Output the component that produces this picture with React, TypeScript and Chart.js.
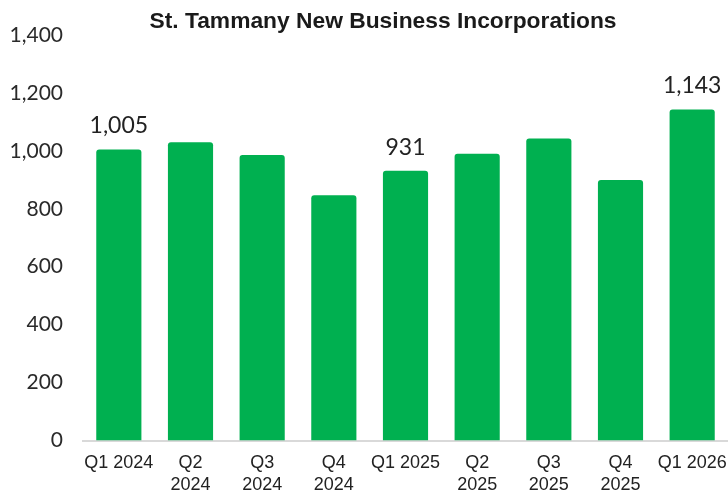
import React, { useEffect, useRef } from "react";
import { Chart, registerables } from "chart.js";

Chart.register(...registerables);

const TITLE = "St. Tammany New Business Incorporations";
const categories: string[][] = [
  ["Q1 2024"],
  ["Q2", "2024"],
  ["Q3", "2024"],
  ["Q4", "2024"],
  ["Q1 2025"],
  ["Q2", "2025"],
  ["Q3", "2025"],
  ["Q4", "2025"],
  ["Q1 2026"],
];
const incorporations: number[] = [1005, 1030, 986, 847, 931, 990, 1043, 899, 1143];
const labeledIndices: number[] = [0, 4, 8];
const yMin = 0;
const yMax = 1400;
const yStep = 200;

const GREEN = "#00B050";

const overlayPlugin = {
  id: "overlay",
  afterDatasetsDraw(chart: any) {
    const ctx = chart.ctx;
    const meta = chart.getDatasetMeta(0);
    ctx.save();
    ctx.fillStyle = "#222222";
    ctx.font = "23px Lato";
    ctx.textAlign = "center";
    ctx.textBaseline = "alphabetic";
    labeledIndices.forEach((i) => {
      const el = meta.data[i];
      if (!el) return;
      ctx.fillText(incorporations[i].toLocaleString("en-US"), el.x, el.y - 16);
    });
    ctx.fillStyle = "#1a1a1a";
    ctx.font = "bold 22.8px 'Liberation Sans', Arial, sans-serif";
    ctx.fillText(TITLE, 383, 28.3);
    ctx.restore();
  },
};

export default function App() {
  const canvasRef = useRef<HTMLCanvasElement | null>(null);

  useEffect(() => {
    document.body.style.margin = "0";
    const canvas = canvasRef.current;
    if (!canvas) return;
    const chart = new Chart(canvas, {
      type: "bar",
      data: {
        labels: categories,
        datasets: [
          {
            data: incorporations,
            backgroundColor: GREEN,
            borderWidth: 0,
            borderRadius: { topLeft: 3, topRight: 3, bottomLeft: 0, bottomRight: 0 },
            borderSkipped: "bottom",
            categoryPercentage: 1,
            barPercentage: 0.63,
          },
        ],
      },
      options: {
        responsive: false,
        animation: false,
        devicePixelRatio: 1,
        layout: { padding: { top: 35, left: 0, right: 0, bottom: 0 } },
        plugins: {
          legend: { display: false },
          title: { display: false },
          tooltip: { enabled: false },
        },
        scales: {
          x: {
            grid: { display: false, drawTicks: false },
            border: { display: true, color: "#d9d9d9", width: 2 },
            ticks: {
              color: "#222222",
              font: { family: "'Liberation Sans', Arial, sans-serif", size: 18, lineHeight: 1.222 },
              padding: 12,
              maxRotation: 0,
              autoSkip: false,
            },
            afterFit(scale: any) {
              scale.height = 54.5;
              scale.paddingLeft = 0;
              scale.paddingRight = 0;
            },
          },
          y: {
            min: yMin,
            max: yMax,
            grid: { display: false, drawTicks: false },
            border: { display: false },
            ticks: {
              stepSize: yStep,
              color: "#2a2a2a",
              font: { family: "Lato", size: 21 },
              padding: 20,
              callback: (v: any) => Number(v).toLocaleString("en-US"),
            },
            afterFit(scale: any) {
              scale.width = 83;
            },
          },
        },
      },
      plugins: [overlayPlugin],
    });
    return () => chart.destroy();
  }, []);

  return (
    <div style={{ width: 728, height: 495 }}>
      <canvas ref={canvasRef} width={728} height={495} style={{ display: "block" }} />
    </div>
  );
}
